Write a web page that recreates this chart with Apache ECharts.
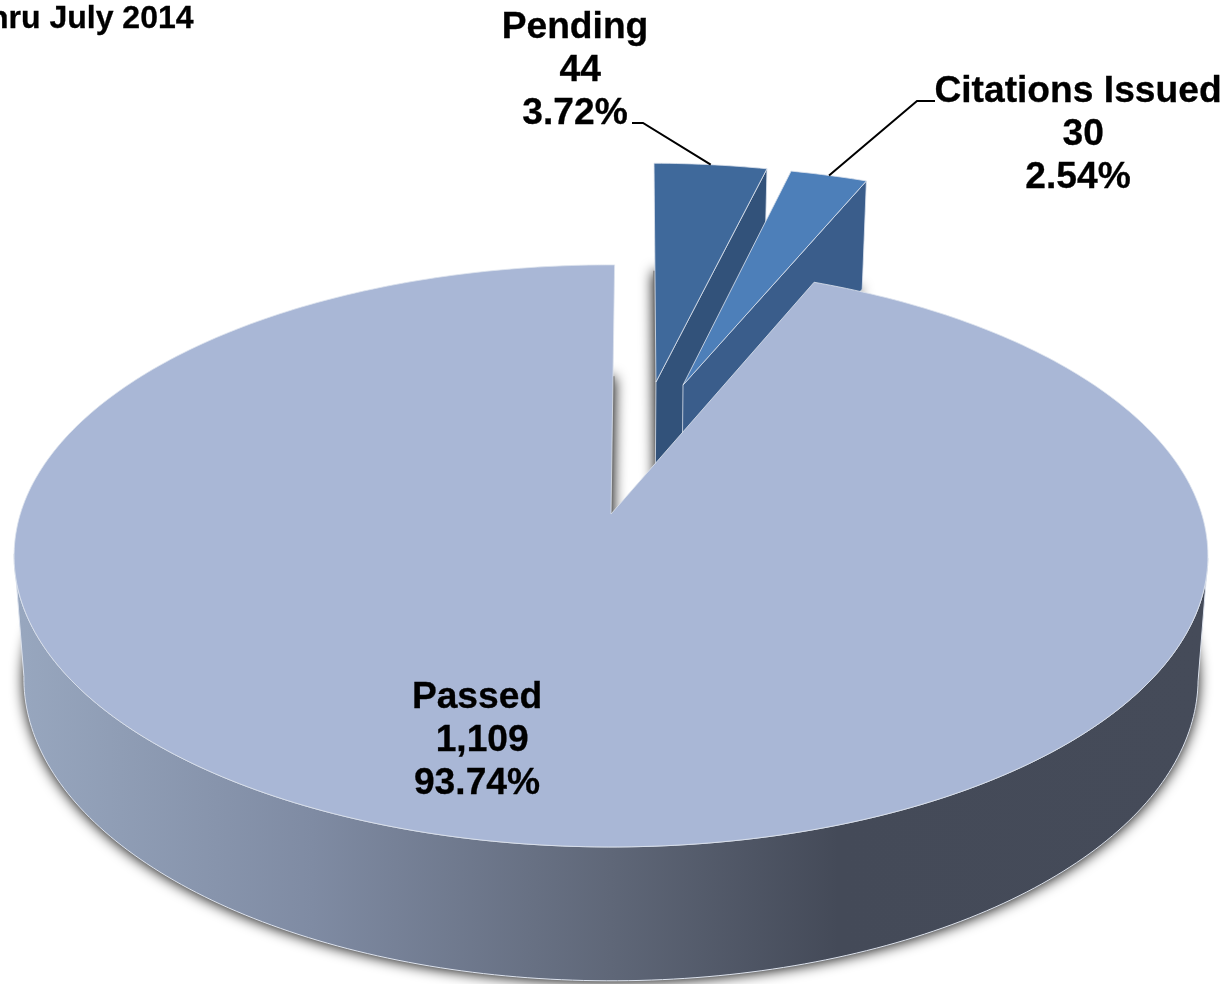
<!DOCTYPE html>
<html><head><meta charset="utf-8">
<style>html,body{margin:0;padding:0;background:#fff}#c{width:1228px;height:984px}</style>
<script src="https://cdn.jsdelivr.net/npm/echarts@6/dist/echarts.min.js"></script>
</head><body><div id="c"></div>
<script>
// Data (clockwise from the top of the pie)
const categories = ['Pending', 'Citations Issued', 'Passed'];
const counts = [44, 30, 1109];
const countLabels = [' 44', ' 30', ' 1,109'];
const percentLabels = ['3.72%', '2.54%', '93.74%'];
const titleText = 'hru July 2014';

// Presentation
const FONT = '"Liberation Sans", Arial, sans-serif';
const topColors = ['#3f699b', '#4d7fb9', '#a9b7d6'];
const sideColors = ['#32527a', '#3a5d8b', null];
const explode = [[0.0815, 0.496], [0.1304, 0.484], [0, 0]];
const labelCenters = [[575, 28], [1078, 92], [477, 698]];
const leaderAnchors = [[[632, 123], [643, 123]], [[935, 101], [917, 101]], null];
const LINE_H = 43;
const TOP = {cx: 611, cy: 514, rx: 590.7, ry: 285};
const BOT = {cx: 611, cy: 635, rx: 581, ry: 296};
const K = 0.144;
const ROT = 0.4 * Math.PI / 180;
const FRONT_START = 98.3 * Math.PI / 180, FRONT_END = 261.7 * Math.PI / 180;

const total = counts.reduce((a, b) => a + b, 0);
function startAngle(i) {
  let s = 0;
  for (let j = 0; j < i; j++) s += counts[j];
  return s / total * Math.PI * 2;
}
function proj(P, u, v) {
  const w = 1 + K * v;
  return [P.cx + P.rx * u / w, P.cy - P.ry * v / w];
}
function rim(P, i, a) {
  return proj(P, Math.sin(a + ROT) + explode[i][0], Math.cos(a + ROT) + explode[i][1]);
}
function arc(P, i, a0, a1) {
  const n = Math.max(4, Math.ceil((a1 - a0) * 60));
  const pts = [];
  for (let s = 0; s <= n; s++) pts.push(rim(P, i, a0 + (a1 - a0) * s / n));
  return pts;
}
function apex(P, i) { return proj(P, explode[i][0], explode[i][1]); }

const sideGradient = new echarts.graphic.LinearGradient(0, 0, 1, 0, [
  {offset: 0, color: '#98a7bf'},
  {offset: 0.25, color: '#7f8ba3'},
  {offset: 0.5, color: '#5f6778'},
  {offset: 0.69, color: '#444a58'},
  {offset: 1, color: '#454b59'}
]);
const EDGE = '#dde3ee';

function renderShadow(params, api) {
  const i = params.dataIndex;
  const a0 = startAngle(i), a1 = a0 + api.value(0) / total * Math.PI * 2;
  return {
    type: 'polygon', silent: true,
    shape: {points: [apex(BOT, i)].concat(arc(BOT, i, a0, a1))},
    style: {fill: '#777', shadowBlur: 14, shadowColor: 'rgba(0,0,0,1)', shadowOffsetX: 0, shadowOffsetY: 1}
  };
}
function renderSlice(params, api) {
  const i = params.dataIndex;
  const a0 = startAngle(i), a1 = a0 + api.value(0) / total * Math.PI * 2;
  const children = [];
  if (sideColors[i]) {
    children.push({
      type: 'polygon',
      shape: {points: [rim(TOP, i, a1), apex(TOP, i), apex(BOT, i), rim(BOT, i, a1)]},
      style: {fill: sideColors[i], stroke: EDGE, lineWidth: 0.8}
    });
  } else {
    const s = Math.max(a0, FRONT_START), e = Math.min(a1, FRONT_END);
    children.push({
      type: 'polygon',
      shape: {points: arc(TOP, i, s, e).concat(arc(BOT, i, s, e).reverse())},
      style: {fill: sideGradient, stroke: EDGE, lineWidth: 1}
    });
  }
  children.push({
    type: 'polygon',
    shape: {points: [apex(TOP, i)].concat(arc(TOP, i, a0, a1))},
    style: {fill: topColors[i], stroke: EDGE, lineWidth: 0.8}
  });
  return {type: 'group', children};
}
function renderLabel(params, api) {
  const i = params.dataIndex;
  const a0 = startAngle(i), a1 = a0 + api.value(0) / total * Math.PI * 2;
  const c = labelCenters[i];
  const lines = [categories[i], countLabels[i], percentLabels[i]];
  const children = lines.map((t, n) => ({
    type: 'text', x: c[0], y: c[1] + n * LINE_H,
    style: {text: t, fill: '#000', font: 'bold 37.2px ' + FONT, align: 'center', verticalAlign: 'middle',
      stroke: '#000', lineWidth: 0.3}
  }));
  if (leaderAnchors[i]) {
    children.push({
      type: 'polyline',
      shape: {points: leaderAnchors[i].concat([rim(TOP, i, (a0 + a1) / 2)])},
      style: {fill: 'none', stroke: '#000', lineWidth: 2}
    });
  }
  return {type: 'group', children};
}

const rows = counts.map(v => [v]);
const chart = echarts.init(document.getElementById('c'), null, {renderer: 'canvas'});
chart.setOption({
  animation: false,
  backgroundColor: '#fff',
  title: {text: titleText, left: -11, top: 3, padding: 0,
    textStyle: {fontFamily: FONT, fontWeight: 'bold', fontSize: 32, color: '#000', textBorderColor: '#000', textBorderWidth: 0.3}},
  tooltip: {show: false},
  series: [
    {type: 'custom', name: 'shadow', coordinateSystem: 'none', z: 1, silent: true, clip: false, data: rows, renderItem: renderShadow},
    {type: 'custom', name: 'slices', coordinateSystem: 'none', z: 2, silent: true, clip: false, data: rows, renderItem: renderSlice},
    {type: 'custom', name: 'labels', coordinateSystem: 'none', z: 3, silent: true, clip: false, data: rows, renderItem: renderLabel}
  ]
});
</script></body></html>
